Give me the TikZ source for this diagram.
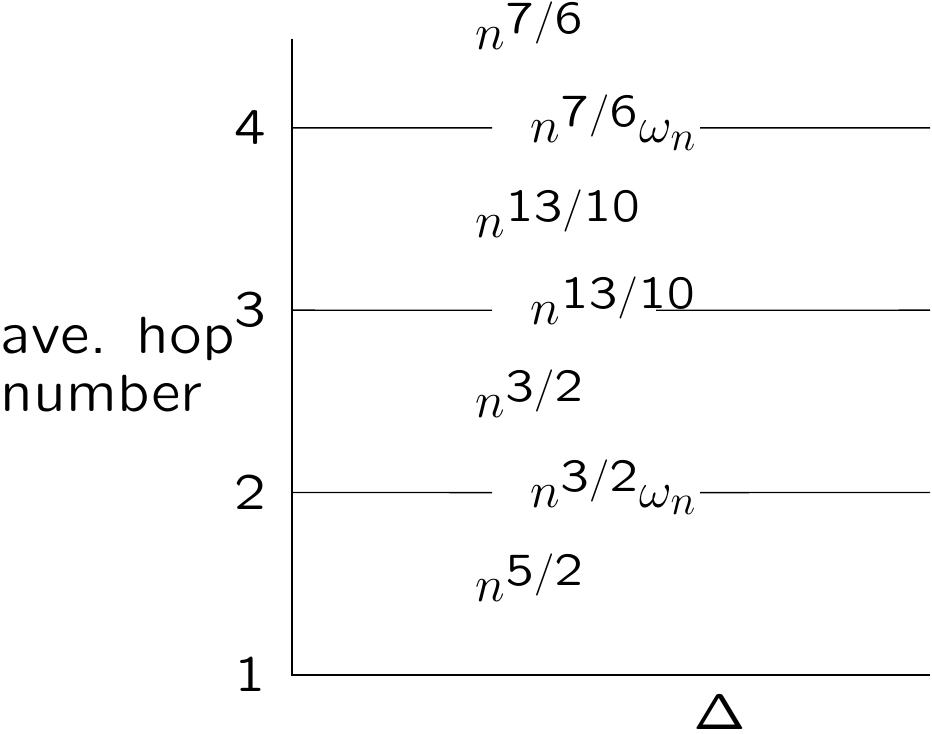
\documentclass[tikz,border=0pt]{standalone}
\DeclareFontFamily{OT1}{cmssq}{}
\DeclareFontShape{OT1}{cmssq}{m}{n}{<->cmssq8}{}
\DeclareMathAlphabet{\mathsans}{OT1}{cmssq}{m}{n}
\DeclareMathSizes{14.4}{14.4}{13}{10}
\newcommand*{\quotsans}{\usefont{OT1}{cmssq}{m}{n}}
\newcommand*{\pw}[1]{^{\raisebox{-1.5pt}{$\scriptstyle\mathsans{#1}$}}}

\newcommand*{\xmin}{0}
\newcommand*{\xmax}{6.38}
\newcommand*{\ymin}{0}
\newcommand*{\ymax}{3.49}

\begin{document}
\begin{tikzpicture}
[
	ticklabel/.style={anchor=east,inner sep=0pt,font=\quotsans\Large},
	ratelabel/.style={anchor=base west,inner sep=0pt,font=\Large},
	yscale=1.823
]
	\useasboundingbox (-2.92,-0.3236) rectangle (6.40,3.702);

	% axes
	\draw (\xmin,\ymax) -- (\xmin,\ymin) -- (\xmax,\ymin);
	\node[ticklabel] (tick1) at (-0.25,0) {1};
	\node[anchor=north west,inner sep=0pt,align=left,font=\quotsans\fontsize{14.9}{16.4}\selectfont] (ylabel) at (-2.92,1.965) {ave. hop\\number};
	\node[inner sep=0pt,font=\Large] (xlabel) at (4.28,-0.203) {$\mathsans{\Delta}$};

	% levels
	\foreach \y/\val/\xs in {1/2/4.08, 2/3/3.64, 3/4/4.08}
	{
		\coordinate (left\val) at (\xmin,\y);
		\coordinate (right\val) at (\xmax,\y);
		\draw (left\val) -- (2,\y);
		\draw (\xs,\y) -- (right\val);
		\node[ticklabel] (tick\val) at (-0.25,\y) {\val};
	}

	% rates on the levels
	\node[ratelabel] (mid4) at (2.38,2.92) {$n\pw{7/6}\omega_n$};
	\node[ratelabel] (mid3) at (2.38,1.92) {$n\pw{13/10}$};
	\node[ratelabel] (mid2) at (2.38,0.92) {$n\pw{3/2}\omega_n$};

	% rates between the levels
	\node[ratelabel] (gap4) at (1.83,3.43) {$n\pw{7/6}$};
	\node[ratelabel] (gap3) at (1.83,2.40) {$n\pw{13/10}$};
	\node[ratelabel] (gap2) at (1.83,1.41) {$n\pw{3/2}$};
	\node[ratelabel] (gap1) at (1.83,0.40) {$n\pw{5/2}$};

\end{tikzpicture}
\end{document}
